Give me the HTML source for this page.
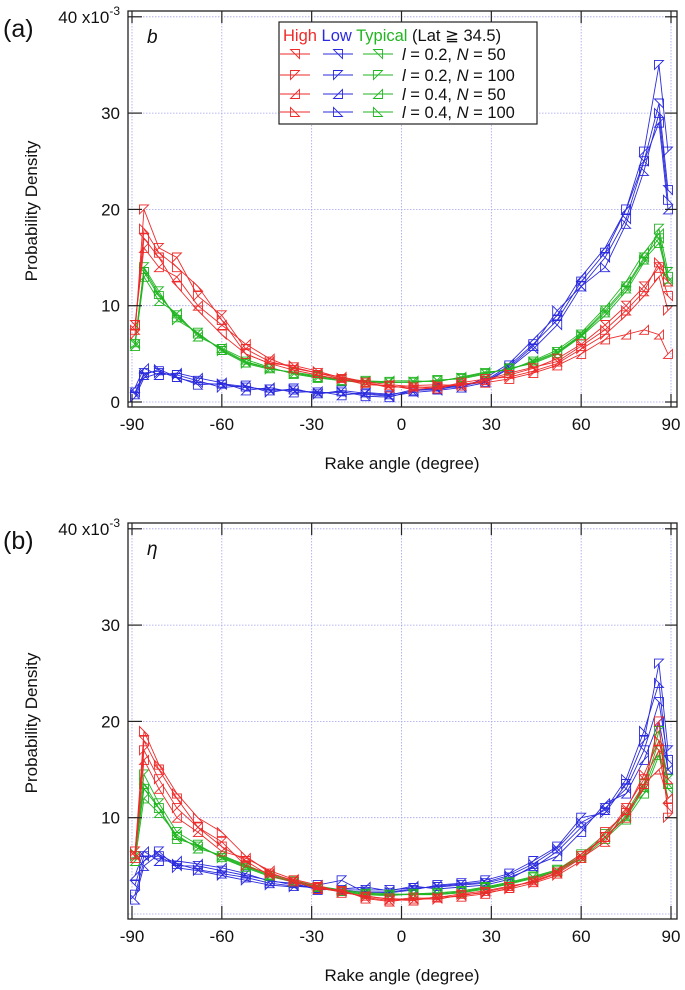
<!DOCTYPE html>
<html><head><meta charset="utf-8">
<style>
body{margin:0;background:#fff;}
svg{display:block;font-family:"Liberation Sans",sans-serif;}
</style></head>
<body>
<svg id="chart" width="685" height="990" viewBox="0 0 685 990"></svg>
<script>
const rakeAngles=[-89,-86,-81,-75,-68,-60,-52,-44,-36,-28,-20,-12,-4,4,12,20,28,36,44,52,60,68,75,81,86,89];
const xTicks=[-90,-60,-30,0,30,60,90];
const yTicksA=[0,10,20,30,40];
const yTicksB=[10,20,30,40];
// Panel (a) b
const aHigh1=[8,17,15,12,9.5,7,5,4,3.3,2.8,2.3,2,1.6,1.5,1.6,1.8,2.2,2.8,3.5,4.5,6,8,10,12,14,11];
const aHigh2=[7,20,16,15,11,9,5.5,4.2,3.6,3,2.4,1.8,1.7,1.3,1.5,2,2.4,2.6,3.2,4,5.5,7,9,11,13,9.5];
const aHigh3=[8,16,14,13,10,8,6,4.5,3.5,3,2.6,2.1,1.8,1.6,1.4,1.9,2,2.4,3,3.8,5,6.5,7,7.5,7,5];
const aHigh4=[7.5,18,15.5,14,12,8.5,5,4,3.8,3.2,2.5,2,1.5,1.7,1.8,1.7,2.3,3,3.6,4.2,5.8,7.5,9.5,11.5,14.5,12.5];
const aLow1=[1,3,3.2,2.5,2,1.8,1.5,1.3,1.2,1,1,0.8,0.6,1,1.2,1.5,2,3.5,5.5,8,12,15,19,25,31,22];
const aLow2=[0.5,2.5,3,2.8,2.2,1.5,1.7,1,1.4,0.8,1.2,0.9,0.7,1.3,1.4,1.8,2.2,3.8,6,8.5,12.5,15.5,20,26,35,26];
const aLow3=[1.5,3.5,2.8,3,2.5,2,1.2,1.5,1,1.1,0.7,1,0.8,1.1,1.6,1.5,2.5,4,6.5,9,13,16,20,25,29,20];
const aLow4=[0.8,2.8,3.4,2.6,1.8,1.9,1.6,1.2,1.3,0.9,1.1,0.6,0.5,1.2,1.3,1.7,2.1,3.6,5.8,9.5,12,14,18.5,24,30,21];
const aTyp1=[6,13.5,11,9,7,5.5,4.2,3.5,3,2.6,2.3,2.1,2,2.1,2.2,2.5,3,3.4,4.2,5.2,7,9.5,12,15,17,13];
const aTyp2=[6,14,11.5,8.5,7.2,5.3,4,3.4,3.1,2.7,2.4,2.2,2.1,2,2.3,2.4,2.9,3.5,4,5,6.8,9,11.5,14.5,18,13.5];
const aTyp3=[5.8,13,10.5,9.2,6.8,5.6,4.4,3.6,2.9,2.5,2.2,2,2.2,2.2,2.1,2.6,3.1,3.3,4.3,5.4,7.2,9.8,12.5,15.5,17.5,12.5];
const aTyp4=[6.2,13.8,11.2,8.8,7.1,5.4,4.1,3.5,3,2.6,2.3,2.1,2,2.1,2.2,2.5,3,3.4,4.1,5.1,6.9,9.3,11.8,14.8,16.5,12.8];
// Panel (b) eta
const bHigh1=[6,18,15,12,9,7,5.5,4,3.3,2.7,2.3,1.8,1.6,1.5,1.6,1.9,2.3,2.8,3.4,4.3,6,8,11,14,17,11];
const bHigh2=[6.5,17,14,11,9,7.5,5,4.2,3.5,2.8,2.4,1.7,1.4,1.7,1.5,2,2.2,2.6,3.2,4,5.5,8.5,10.5,13,20,10];
const bHigh3=[5.8,16,13,10,8.5,6.5,5.8,4.5,3.6,3,2.2,1.9,1.5,1.4,1.8,1.8,2.1,2.7,3.5,4.5,6.2,8,10,13.5,15,12];
const bHigh4=[6.2,19,15.5,12.5,10,8.5,6,4.3,3.4,2.6,2.5,1.6,1.3,1.6,1.7,2.1,2.4,2.9,3.3,4.2,5.8,7.5,10.8,14.5,18,14];
const bLow1=[3,6,6,5,5,4.5,4,3.5,3,2.8,2.5,2.5,2.5,2.7,2.8,3,3.2,3.8,4.8,6.5,9,11,13,17,22,16];
const bLow2=[2,5.5,6.5,4.8,4.5,4,3.5,3,2.8,3,3.5,2.2,2.2,2.5,3,3.2,3.5,4.2,5.5,7,10,10.5,13.5,18,26,17];
const bLow3=[4,6.5,5.5,5.5,5.2,4.8,4.2,3.4,3.2,2.5,2.6,2.8,2.4,2.9,2.6,2.8,3,3.6,5,6,8.5,11.5,12.5,16,20,15];
const bLow4=[1.5,5,6.2,5.2,4.6,4.2,3.8,3.2,2.9,2.7,2.4,2.3,2.3,2.6,2.9,3.1,3.3,4,5.2,6.8,9.5,10.8,14,19,24,15];
const bTyp1=[6,13,11,8,7,6,5,4,3.4,2.8,2.4,2.1,2,2,2.1,2.3,2.7,3.2,3.8,4.5,6,8,10,13,17,13];
const bTyp2=[6,14.5,11.5,8.5,7.2,5.8,4.8,3.9,3.3,2.7,2.3,2,1.9,2.1,2.2,2.4,2.8,3.3,3.9,4.6,6.2,8.3,10.5,13.5,19,14];
const bTyp3=[5.5,12,10.5,8.2,6.8,6.1,5.1,4.1,3.5,2.9,2.5,2.2,2.1,2,2,2.2,2.6,3.1,3.7,4.4,5.8,7.8,9.8,12.5,16.5,12];
const bTyp4=[6.3,13.5,11,7.8,7.1,5.9,4.9,4,3.4,2.8,2.4,2.1,2,2.1,2.1,2.3,2.7,3.2,3.8,4.5,6,8,10.2,13.2,18,13.5];

const NS='http://www.w3.org/2000/svg';
const svg=document.getElementById('chart');
const COL={high:'#ee2a2a',low:'#2b2bdd',typ:'#22b522'};
const MK=[[[-4.5,-4.5],[4.5,-4.5],[4.5,4.5]],[[-4.5,-4.5],[4.5,-4.5],[-4.5,4.5]],[[4.5,-4.5],[4.5,4.5],[-4.5,4.5]],[[-4.5,-4.5],[-4.5,4.5],[4.5,4.5]]];
function mk(tag,attrs,parent){const e=document.createElementNS(NS,tag);for(const k in attrs)e.setAttribute(k,attrs[k]);(parent||svg).appendChild(e);return e;}
function xS(v){return 132+(v+90)*(539/180);}
function marker(g,x,y,m,c){return mk('polygon',{points:MK[m].map(p=>(x+p[0]).toFixed(1)+','+(y+p[1]).toFixed(1)).join(' '),fill:'none',stroke:c,'stroke-width':0.9},g);}

function drawPanel(top,yTicks,label,sym,series,pname){
  const y0=top+391, pxPer=9.63;
  const yS=v=>y0-v*pxPer;
  const g=mk('g',{});
  
  
  // grid
  xTicks.forEach(t=>{const l=mk('line',{x1:xS(t),x2:xS(t),y1:top,y2:top+396,stroke:'#a0a0ee','stroke-width':0.8,'stroke-dasharray':'1.5,1.5'},g);
    });
  [0,10,20,30,40].forEach(t=>{const l=mk('line',{x1:128,x2:677,y1:yS(t),y2:yS(t),stroke:'#a0a0ee','stroke-width':0.8,'stroke-dasharray':'1.5,1.5'},g);
    });
  // series
  series.forEach(s=>{
    const sg=mk('g',{},g);
    
    
    const pts=rakeAngles.map((a,i)=>xS(a).toFixed(1)+','+yS(s.v[i]).toFixed(1)).join(' ');
    mk('polyline',{points:pts,fill:'none',stroke:s.c,'stroke-width':0.9},sg);
    rakeAngles.forEach((a,i)=>{const p=marker(sg,xS(a),yS(s.v[i]),s.m,s.c);
      });
  });
  // frame
  const fr=mk('rect',{x:128,y:top,width:549,height:396,fill:'none',stroke:'#222','stroke-width':1.3},g);
  
  xTicks.forEach(t=>{mk('line',{x1:xS(t),x2:xS(t),y1:top+396,y2:top+383,stroke:'#222','stroke-width':1.2},g);
    mk('line',{x1:xS(t),x2:xS(t),y1:top,y2:top+12,stroke:'#222','stroke-width':1.2},g);
    const tx=mk('text',{x:xS(t),y:top+419,'font-size':17,'text-anchor':'middle',fill:'#111'},g);tx.textContent=t;
    });
  yTicks.forEach(t=>{mk('line',{x1:128,x2:142,y1:yS(t),y2:yS(t),stroke:'#222','stroke-width':1.2},g);
    mk('line',{x1:677,x2:665,y1:yS(t),y2:yS(t),stroke:'#222','stroke-width':1.2},g);
    const tx=mk('text',{x:120,y:yS(t)+6,'font-size':17,'text-anchor':'end',fill:'#111'},g);
    
    if(t===40){tx.innerHTML='40 x10<tspan font-size="12" dy="-8">-3</tspan>';} else tx.textContent=t;});
  const pl=mk('text',{x:3,y:top+26,'font-size':25,fill:'#111'},g);pl.textContent=label;
  
  const sy=mk('text',{x:147,y:top+32,'font-size':19,'font-style':'italic',fill:'#111'},g);sy.textContent=sym;
  
  const yt=mk('text',{x:0,y:0,'font-size':17,'text-anchor':'middle',fill:'#111',transform:`translate(37,${top+200}) rotate(-90)`},g);yt.textContent='Probability Density';
  
  const xt=mk('text',{x:402,y:top+458,'font-size':17,'text-anchor':'middle',fill:'#111'},g);xt.textContent='Rake angle (degree)';
  
}
function ser(pfx,H,L,T){
  const out=[];
  L.forEach((v,i)=>out.push({name:pfx+'-low-'+(i+1),v:v,m:i,c:COL.low}));
  T.forEach((v,i)=>out.push({name:pfx+'-typical-'+(i+1),v:v,m:i,c:COL.typ}));
  H.forEach((v,i)=>out.push({name:pfx+'-high-'+(i+1),v:v,m:i,c:COL.high}));
  return out;
}
drawPanel(11,yTicksA,'(a)','b',ser('a',[aHigh1,aHigh2,aHigh3,aHigh4],[aLow1,aLow2,aLow3,aLow4],[aTyp1,aTyp2,aTyp3,aTyp4]),'panel-a');
drawPanel(523,yTicksB,'(b)','η',ser('b',[bHigh1,bHigh2,bHigh3,bHigh4],[bLow1,bLow2,bLow3,bLow4],[bTyp1,bTyp2,bTyp3,bTyp4]),'panel-b');

// legend
const lg=mk('g',{});


mk('rect',{x:279,y:22,width:258,height:102,fill:'#fff',stroke:'#222','stroke-width':1.2},lg);
const hd=mk('text',{x:283,y:41,'font-size':16.5,fill:'#111'},lg);
hd.innerHTML='<tspan fill="#ee2a2a">High</tspan> <tspan fill="#2b2bdd">Low</tspan> <tspan fill="#22b522">Typical</tspan> (Lat ≧ 34.5)';
const rowsY=[54,75,94,112];
const rowsT=['<tspan font-style="italic">l</tspan> = 0.2, <tspan font-style="italic">N</tspan> = 50','<tspan font-style="italic">l</tspan> = 0.2, <tspan font-style="italic">N</tspan> = 100','<tspan font-style="italic">l</tspan> = 0.4, <tspan font-style="italic">N</tspan> = 50','<tspan font-style="italic">l</tspan> = 0.4, <tspan font-style="italic">N</tspan> = 100'];
rowsY.forEach((y,r)=>{
  const e=mk('g',{},lg);
  
  
  [[295,COL.high],[338,COL.low],[378,COL.typ]].forEach(([cx,c])=>{
    mk('line',{x1:cx-15,x2:cx+15,y1:y,y2:y,stroke:c,'stroke-width':0.9},e);
    marker(e,cx,y,r,c);
  });
  const t=mk('text',{x:402,y:y+6,'font-size':16.5,fill:'#111'},e);t.innerHTML=rowsT[r];
});
</script>
</body></html>
